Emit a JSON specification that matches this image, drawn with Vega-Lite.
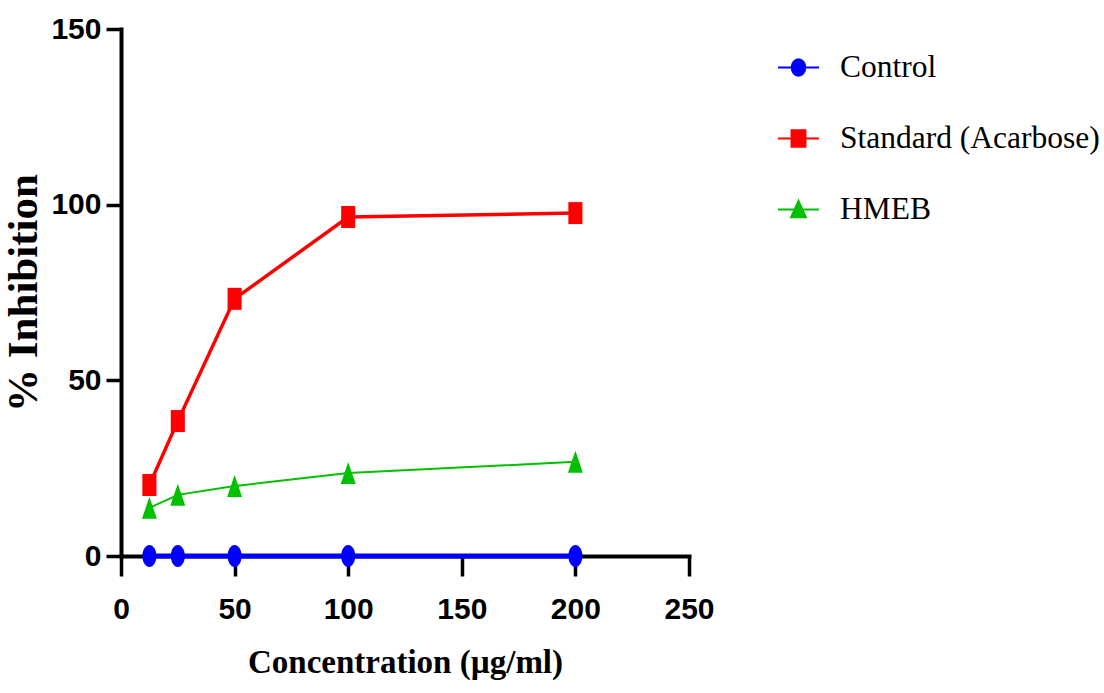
{
  "$schema": "https://vega.github.io/schema/vega-lite/v6.json",
  "width": 568,
  "height": 527,
  "autosize": "none",
  "padding": {"left": 121, "top": 29, "right": 415, "bottom": 137},
  "background": "white",
  "config": {
    "view": {"stroke": null},
    "axis": {
      "grid": false,
      "domainColor": "black",
      "domainWidth": 4,
      "domainCap": "square",
      "tickColor": "black",
      "tickWidth": 3.5,
      "labelColor": "black",
      "labelFont": "Liberation Sans",
      "labelFontWeight": "bold",
      "labelFontSize": 30,
      "labelFlush": false,
      "titleColor": "black",
      "titleFont": "Liberation Serif",
      "titleFontWeight": "bold"
    },
    "legend": {
      "labelFont": "Liberation Serif",
      "labelFontSize": 31.5,
      "labelColor": "black",
      "labelLimit": 400,
      "symbolSize": 1681,
      "symbolStrokeWidth": 2,
      "symbolOpacity": 1,
      "rowPadding": 34,
      "labelOffset": 20,
      "padding": 0
    }
  },
  "data": {
    "values": [
      {"series": "Control", "conc": 12.5, "inhib": 0},
      {"series": "Control", "conc": 25, "inhib": 0},
      {"series": "Control", "conc": 50, "inhib": 0},
      {"series": "Control", "conc": 100, "inhib": 0},
      {"series": "Control", "conc": 200, "inhib": 0},
      {"series": "Standard (Acarbose)", "conc": 12.5, "inhib": 20.2},
      {"series": "Standard (Acarbose)", "conc": 25, "inhib": 38.4},
      {"series": "Standard (Acarbose)", "conc": 50, "inhib": 73.2},
      {"series": "Standard (Acarbose)", "conc": 100, "inhib": 96.5},
      {"series": "Standard (Acarbose)", "conc": 200, "inhib": 97.6},
      {"series": "HMEB", "conc": 12.5, "inhib": 13.7},
      {"series": "HMEB", "conc": 25, "inhib": 17.4},
      {"series": "HMEB", "conc": 50, "inhib": 19.9},
      {"series": "HMEB", "conc": 100, "inhib": 23.6},
      {"series": "HMEB", "conc": 200, "inhib": 26.8}
    ]
  },
  "encoding": {
    "x": {
      "field": "conc", "type": "quantitative",
      "scale": {"domain": [0, 250], "nice": false, "zero": false},
      "axis": {"values": [0, 50, 100, 150, 200, 250], "tickSize": 20, "labelPadding": 18, "title": "Concentration (µg/ml)", "titleFontSize": 33, "titlePadding": 22}
    },
    "y": {
      "field": "inhib", "type": "quantitative",
      "scale": {"domain": [0, 150], "nice": false},
      "axis": {"values": [0, 50, 100, 150], "tickSize": 15, "labelPadding": 5, "title": "% Inhibition", "titleFontSize": 43, "titlePadding": 5}
    }
  },
  "layer": [
    {
      "mark": {"type": "line"},
      "encoding": {
        "color": {
          "field": "series", "type": "nominal",
          "scale": {"domain": ["Control", "Standard (Acarbose)", "HMEB"], "range": ["#0000ff", "#ff0000", "#00c000"]},
          "legend": null
        },
        "strokeWidth": {
          "field": "series", "type": "nominal",
          "scale": {"domain": ["Control", "Standard (Acarbose)", "HMEB"], "range": [5, 2, 3]},
          "legend": null
        }
      }
    },
    {
      "mark": {"type": "point", "filled": true, "size": 484, "opacity": 1},
      "encoding": {
        "color": {
          "field": "series", "type": "nominal",
          "scale": {"domain": ["Control", "Standard (Acarbose)", "HMEB"], "range": ["#0000ff", "#ff0000", "#00c000"]},
          "legend": null
        },
        "shape": {
          "field": "series", "type": "nominal",
          "scale": {"domain": ["Control", "Standard (Acarbose)", "HMEB"], "range": [
            "M0.64,0A0.64,1 0 1,1 -0.64,0A0.64,1 0 1,1 0.64,0Z",
            "M-0.64,-1H0.64V1H-0.64Z",
            "M0,-1L0.68,1H-0.68Z"
          ]},
          "legend": null
        }
      }
    },
    {
      "transform": [{"filter": "datum.conc < 0"}],
      "mark": {"type": "point", "filled": true},
      "encoding": {
        "fill": {
          "field": "series", "type": "nominal",
          "scale": {"domain": ["Control", "Standard (Acarbose)", "HMEB"], "range": ["#0000ff", "#ff0000", "#00c000"]},
          "legend": {"title": null, "orient": "none", "legendX": 656, "legendY": 17}
        },
        "stroke": {
          "field": "series", "type": "nominal",
          "scale": {"domain": ["Control", "Standard (Acarbose)", "HMEB"], "range": ["#0000ff", "#ff0000", "#00c000"]},
          "legend": {"title": null, "orient": "none", "legendX": 656, "legendY": 17}
        },
        "shape": {
          "field": "series", "type": "nominal",
          "scale": {"domain": ["Control", "Standard (Acarbose)", "HMEB"], "range": [
            "M-1,0H1M0.33,0A0.33,0.4 0 1,1 -0.33,0A0.33,0.4 0 1,1 0.33,0Z",
            "M-1,0H1M-0.34,-0.4H0.34V0.4H-0.34Z",
            "M-1,0H1M0,-0.42L0.36,0.38H-0.36Z"
          ]},
          "legend": {"title": null, "orient": "none", "legendX": 656, "legendY": 17}
        }
      }
    }
  ],
  "resolve": {"scale": {"shape": "independent", "fill": "independent", "stroke": "independent"}}
}
